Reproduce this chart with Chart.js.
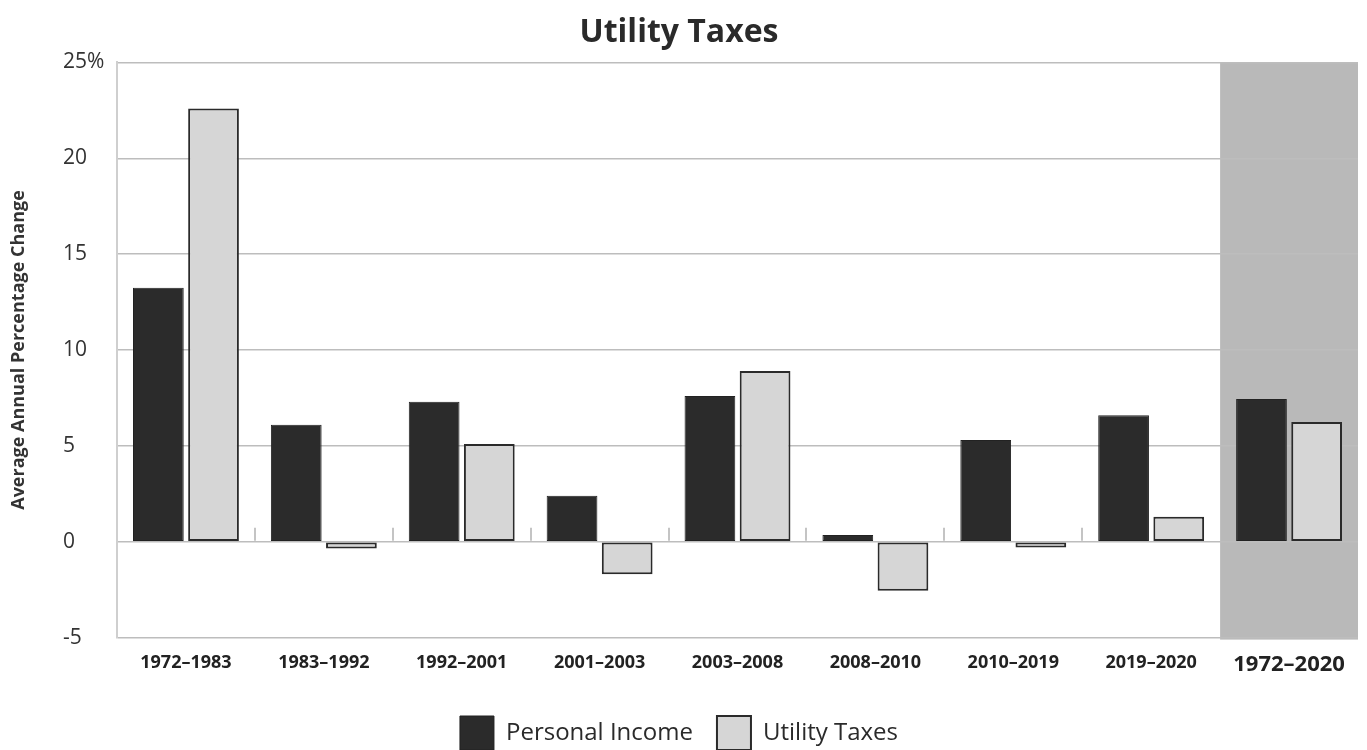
<!DOCTYPE html>
<html>
<head>
<meta charset="utf-8">
<script src="https://cdn.jsdelivr.net/npm/chart.js@4/dist/chart.umd.min.js"></script>
<style>
  html, body { margin: 0; padding: 0; background: #fff; }
  #wrap { width: 1367px; height: 750px; }
</style>
</head>
<body>
<div id="wrap"><canvas id="utilityChart" width="1367" height="750"></canvas></div>
<script>
/* Utility Taxes: average annual percentage change, personal income vs. utility taxes */
const periods = ["1972–1983", "1983–1992", "1992–2001", "2001–2003", "2003–2008", "2008–2010", "2010–2019", "2019–2020", "1972–2020"];
const personalIncome = [13.25, 6.1, 7.3, 2.4, 7.6, 0.35, 5.3, 6.6, 7.45];
const utilityTaxes = [22.6, -0.35, 5.1, -1.7, 8.9, -2.55, -0.3, 1.3, 6.25];
const yTicks = [-5, 0, 5, 10, 15, 20, 25];
const yTitle = "Average Annual Percentage Change";

const FONT = "'Open Sans', 'Noto Sans', sans-serif";
const TICK_LEFT = 63; // left edge of the left-aligned y tick labels

// shaded band behind the whole-period group, separator marks on the zero line, y title
const periodBand = {
  id: "periodBand",
  afterLayout(chart) {
    // crossAlign "far" puts labels at scale.left, so pull that in from the canvas edge
    chart.scales.y.left = TICK_LEFT;
  },
  beforeDraw(chart) {
    const { ctx, chartArea, scales } = chart;
    const x = scales.x;
    const half = (x.getPixelForValue(1) - x.getPixelForValue(0)) / 2;
    const left = x.getPixelForValue(periods.length - 1) - half;
    ctx.save();
    ctx.fillStyle = "#b9b9b9";
    ctx.fillRect(left, chartArea.top, chartArea.right - left, chartArea.bottom - chartArea.top + 2);
    ctx.restore();
  },
  afterDatasetsDraw(chart) {
    const { ctx, scales, chartArea } = chart;
    const x = scales.x;
    const y0 = scales.y.getPixelForValue(0);
    const half = (x.getPixelForValue(1) - x.getPixelForValue(0)) / 2;
    ctx.save();
    ctx.strokeStyle = "#c4c4c4";
    ctx.lineWidth = 2;
    for (let i = 1; i < periods.length - 1; i++) {
      const px = Math.round(x.getPixelForValue(i) - half);
      ctx.beginPath();
      ctx.moveTo(px, y0 - 1);
      ctx.lineTo(px, y0 - 14);
      ctx.stroke();
    }
    // y-axis title
    ctx.translate(19, (chartArea.top + chartArea.bottom) / 2);
    ctx.rotate(-Math.PI / 2);
    ctx.fillStyle = "#333";
    ctx.font = "bold 18px " + FONT;
    ctx.textAlign = "center";
    ctx.textBaseline = "middle";
    ctx.fillText(yTitle, 0, 0);
    ctx.restore();
  },
};

new Chart(document.getElementById("utilityChart"), {
  type: "bar",
  data: {
    labels: periods,
    datasets: [
      {
        label: "Personal Income",
        data: personalIncome,
        backgroundColor: "#2b2b2b",
        borderColor: "#222",
        borderWidth: 1,
        borderSkipped: false,
      },
      {
        label: "Utility Taxes",
        data: utilityTaxes,
        backgroundColor: "#d6d6d6",
        borderColor: "#2a2a2a",
        borderWidth: 2,
        borderSkipped: false,
      },
    ],
  },
  options: {
    responsive: false,
    animation: false,
    categoryPercentage: 0.8,
    barPercentage: 0.92,
    layout: { padding: { top: 6, right: 9, bottom: -10, left: 0 } },
    scales: {
      x: {
        grid: { display: false },
        border: { display: false },
        afterFit: (scale) => {
          scale.height += 8;
        },
        ticks: {
          color: "#222",
          padding: 6,
          maxRotation: 0,
          font: (ctx) =>
            ctx.index === periods.length - 1
              ? { family: FONT, size: 22, weight: "bold" }
              : { family: FONT, size: 18, weight: "bold" },
        },
      },
      y: {
        min: -5,
        max: 25,
        afterBuildTicks: (scale) => {
          scale.ticks = yTicks.map((v) => ({ value: v }));
        },
        afterFit: (scale) => {
          scale.width = 117;
        },
        grid: { color: "#bdbdbd", lineWidth: 1.5, drawTicks: false },
        border: { display: true, color: "#cfcfcf", width: 2 },
        ticks: {
          color: "#333",
          padding: 8,
          crossAlign: "far",
          font: { family: FONT, size: 21 },
          callback: (v) => (v === 25 ? "25%" : String(v)),
        },
      },
    },
    plugins: {
      title: {
        display: true,
        text: "Utility Taxes",
        color: "#2a2a2a",
        padding: { top: 8, bottom: 10 },
        font: { family: FONT, size: 32, weight: "bold" },
      },
      legend: {
        position: "bottom",
        labels: {
          boxWidth: 34,
          boxHeight: 34,
          padding: 24,
          color: "#2a2a2a",
          font: { family: FONT, size: 24 },
        },
      },
      tooltip: { enabled: false },
    },
  },
  plugins: [periodBand],
});
</script>
</body>
</html>
